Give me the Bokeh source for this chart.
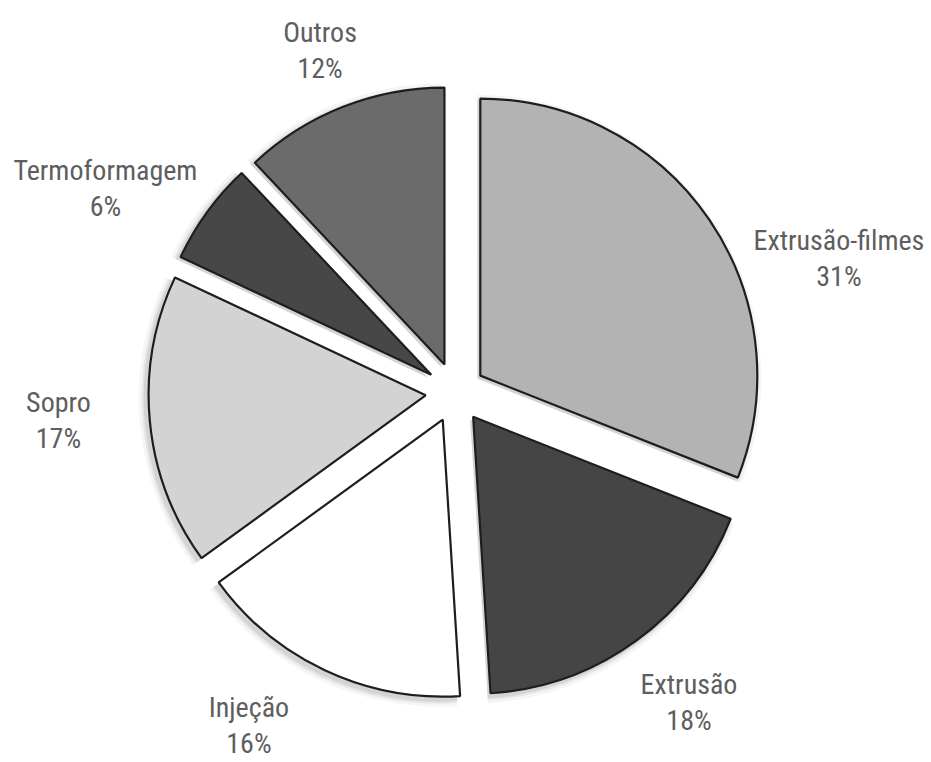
import math
from bokeh.plotting import figure
from bokeh.models import Range1d, ColumnDataSource
from bokeh.core.properties import value
from bokeh.embed import file_html
from bokeh.resources import INLINE

# ---- data ----
categories = ["Extrusão-filmes", "Extrusão", "Injeção", "Sopro", "Termoformagem", "Outros"]
shares = [31, 18, 16, 17, 6, 12]
colors = ["#b3b3b3", "#454545", "#ffffff", "#d3d3d3", "#474747", "#6b6b6b"]

# ---- layout (styles / positions) ----
W, H = 931, 762
CX, CY = 455, H - 392      # pie centre (data units = pixels, y up)
R = 277                    # radius
EXPLODE = 30               # explode distance
label_r = [406, 388, 392, 398, 405, 368]
label_nudge = [15, -1, 6.6, 1.4, -5.8, 0]   # degrees (clockwise) relative to bisector
LINE_GAP = 18
FONT = value("Roboto Condensed")

total = sum(shares)
xs, ys, starts, ends, lx, ly = [], [], [], [], [], []
cum = 0.0
for i, v in enumerate(shares):
    t1 = cum / total * 360.0
    t2 = (cum + v) / total * 360.0
    cum += v
    mid = (t1 + t2) / 2.0
    phi = math.radians(90 - mid)
    xs.append(CX + EXPLODE * math.cos(phi))
    ys.append(CY + EXPLODE * math.sin(phi))
    starts.append(math.radians(90 - t2))
    ends.append(math.radians(90 - t1))
    pl = math.radians(90 - (mid + label_nudge[i]))
    lx.append(CX + label_r[i] * math.cos(pl))
    ly.append(CY + label_r[i] * math.sin(pl))

src = ColumnDataSource(dict(
    x=xs, y=ys, start=starts, end=ends, color=colors, name=categories,
    pct=[f"{v}%" for v in shares],
    sx=[x - 3 for x in xs], sy=[y - 3 for y in ys],
    lx=lx, ly_top=[y + LINE_GAP for y in ly], ly_bot=[y - LINE_GAP for y in ly],
))

p = figure(width=W, height=H, x_range=Range1d(0, W), y_range=Range1d(0, H),
           output_backend="svg", toolbar_location=None,
           x_axis_type=None, y_axis_type=None, min_border=0)
p.outline_line_color = None
p.xgrid.visible = False
p.ygrid.visible = False
p.background_fill_color = "white"
p.border_fill_color = "white"

# soft shadow
for extra, alpha in [(7, 0.04), (4, 0.06), (2, 0.08)]:
    p.wedge(x="sx", y="sy", radius=R + extra, start_angle="start", end_angle="end",
            source=src, fill_color="black", fill_alpha=alpha, line_color=None)

p.wedge(x="x", y="y", radius=R, start_angle="start", end_angle="end", source=src,
        fill_color="color", line_color="#1e1e1e", line_width=2.2)

p.text(x="lx", y="ly_top", text="name", source=src, text_align="center",
       text_baseline="middle", text_font=FONT, text_font_size="28px",
       text_color="#5e5e5e")
p.text(x="lx", y="ly_bot", text="pct", source=src, text_align="center",
       text_baseline="middle", text_font=FONT, text_font_size="28px",
       text_color="#5e5e5e")

open("out.html", "w").write(file_html(p, INLINE))
